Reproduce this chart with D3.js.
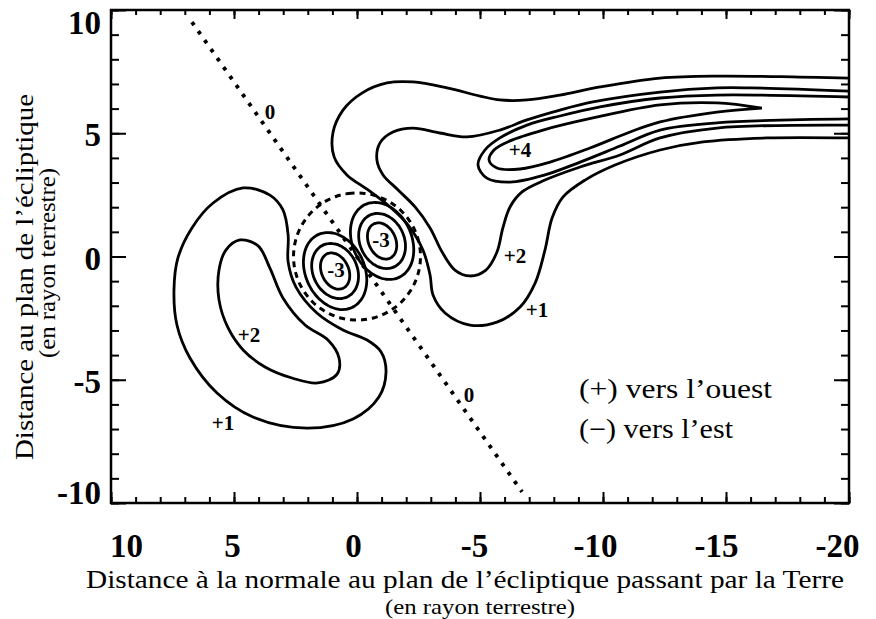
<!DOCTYPE html>
<html><head><meta charset="utf-8">
<script src="https://cdn.jsdelivr.net/npm/d3@7"></script>
<style>body{margin:0;background:#fff}svg{display:block}</style>
</head><body>
<svg id="chart" width="876" height="619"></svg>
<script>
// ---------- axes ----------
const xDomain = [10, -20];
const yDomain = [-10, 10];
const xMajorTicks = [10, 5, 0, -5, -10, -15, -20];
const yMajorTicks = [10, 5, 0, -5, -10];
const xMinorTicks = d3.range(10, -21, -1);
const yMinorTicks = d3.range(-10, 11, 1);

// ---------- contours (data units: Earth radii) ----------
const plus1Left = [[4.63,2.78],[3.54,2.49],[3.01,1.89],[2.80,0.87],[2.80,-0.22],[2.48,-1.24],[1.63,-2.29],[0.57,-2.98],[-0.41,-3.39],[-0.98,-3.87],[-1.18,-4.69],[-0.89,-5.70],[0.16,-6.59],[2.03,-6.96],[4.23,-6.51],[5.69,-5.54],[6.79,-4.12],[7.32,-2.78],[7.44,-1.36],[7.28,-0.06],[6.71,1.16],[5.85,2.17]];
const plus2Left = [[4.76,0.67],[4.02,0.43],[3.54,-0.47],[3.01,-1.68],[2.11,-2.78],[1.18,-3.39],[0.73,-4.12],[0.81,-4.77],[1.59,-5.13],[2.64,-4.93],[3.74,-4.48],[4.63,-3.79],[5.24,-2.90],[5.61,-1.76],[5.61,-0.55],[5.33,0.26]];
const plus1Right = [[-20.0,7.24],[-18.0,7.28],[-14.76,7.32],[-12.32,7.24],[-9.88,6.88],[-8.25,6.55],[-6.91,6.35],[-5.81,6.35],[-5.0,6.51],[-3.66,6.84],[-2.28,7.08],[-1.22,7.04],[-0.20,6.63],[0.57,5.94],[0.98,5.01],[0.93,4.04],[0.41,3.31],[-0.45,2.70],[-1.34,2.01],[-2.07,1.28],[-2.68,0.26],[-2.97,-0.75],[-3.09,-1.56],[-3.58,-2.29],[-4.59,-2.78],[-5.69,-2.66],[-6.63,-2.05],[-7.24,-1.08],[-7.64,0.26],[-7.93,1.56],[-8.37,2.41],[-9.27,3.10],[-10.49,3.71],[-12.32,4.32],[-14.07,4.65],[-16.67,4.81],[-20.0,4.81]];
const plus2Right = [[-20.0,6.71],[-15.98,6.84],[-14.63,6.84],[-12.32,6.67],[-9.59,6.27],[-8.25,5.94],[-6.91,5.54],[-5.81,5.13],[-4.47,4.85],[-3.37,5.01],[-2.28,5.21],[-1.46,5.05],[-0.93,4.60],[-0.81,3.91],[-1.06,3.31],[-1.67,2.70],[-2.36,2.01],[-2.97,1.16],[-3.46,0.18],[-3.98,-0.55],[-4.59,-0.79],[-5.24,-0.55],[-5.69,0.18],[-5.93,1.16],[-6.22,2.01],[-6.71,2.62],[-7.64,3.10],[-9.07,3.63],[-10.69,4.12],[-12.32,4.81],[-14.63,5.21],[-20.0,5.33]];
const plus3Tongue = [[-20.0,6.47],[-14.63,6.55],[-12.32,6.43],[-9.88,6.07],[-8.25,5.70],[-6.91,5.33],[-5.81,4.81],[-5.20,4.32],[-4.92,3.71],[-5.28,3.18],[-6.22,3.02],[-7.64,3.31],[-9.07,3.83],[-10.69,4.48],[-12.32,5.13],[-14.63,5.42],[-20.0,5.58]];
const plus4Loop = [[-16.46,6.02],[-14.63,6.23],[-12.32,6.15],[-9.59,5.62],[-7.56,5.13],[-6.22,4.69],[-5.57,4.32],[-5.37,3.91],[-5.69,3.59],[-6.63,3.55],[-7.85,3.83],[-9.47,4.40],[-11.10,5.05],[-12.32,5.46],[-14.63,5.86],[-16.46,6.02]];

// vortex cores (-1, -2, -3): centres and ellipse semi-axes [major, minor]
const vortexCentres = [[0.89,-0.59],[-1.02,0.63]];
const vortexAxes = [[1.63,1.2],[1.16,0.9],[0.77,0.55]];
const vortexTiltDeg = 25;
// zero contours
const zeroCircleCentre = [0, 0];
const zeroCircleRadius = 2.58;
const zeroLine = [[6.71,9.51],[-6.71,-9.55]];

// contour value labels
const labelTexts = ["0","+4","-3","-3","+2","+1","+2","+1","0"];
const labelX = [3.54,-6.63,-0.98,0.85,-6.42,-7.32,4.39,5.45,-4.55];
const labelY = [5.86,4.32,0.67,-0.55,0.02,-2.17,-3.18,-6.75,-5.62];

const legendLines = ["(+) vers l\u2019ouest","(\u2212) vers l\u2019est"];
const xTitle = ["Distance \u00e0 la normale au plan de l\u2019\u00e9cliptique passant par la Terre","(en rayon terrestre)"];
const yTitle = ["Distance au plan de l\u2019\u00e9cliptique","(en rayon terrestre)"];

// ---------- drawing ----------
const svg = d3.select("#chart");
const L = 111, R = 849, T = 10, B = 503;
const x = d3.scaleLinear().domain(xDomain).range([L, R]);
const y = d3.scaleLinear().domain(yDomain).range([B, T]);

svg.append("rect").attr("width",876).attr("height",619).attr("fill","#fff");
svg.append("defs").append("clipPath").attr("id","clip")
  .append("rect").attr("x",L).attr("y",T).attr("width",R-L).attr("height",B-T);
const g = svg.append("g").attr("clip-path","url(#clip)");

const lineOpen = d3.line().x(d=>x(d[0])).y(d=>y(d[1])).curve(d3.curveCatmullRom.alpha(0.5));
const lineClosed = d3.line().x(d=>x(d[0])).y(d=>y(d[1])).curve(d3.curveCatmullRomClosed.alpha(0.5));

function solid(sel){ return sel.attr("fill","none").attr("stroke","#000").attr("stroke-width",2.8).attr("stroke-linejoin","round"); }

[plus1Left, plus2Left].forEach(c => solid(g.append("path").attr("d", lineClosed(c))));
[plus1Right, plus2Right, plus3Tongue, plus4Loop].forEach(c => solid(g.append("path").attr("d", lineOpen(c))));

function ellipsePts(c, a, b, tiltDeg){
  const t = tiltDeg*Math.PI/180;
  const d1 = [Math.sin(t), Math.cos(t)], d2 = [Math.cos(t), -Math.sin(t)];
  return d3.range(0, 72).map(i => {
    const th = i/72*2*Math.PI, ca = a*Math.cos(th), sb = b*Math.sin(th);
    return [c[0] + ca*d1[0] + sb*d2[0], c[1] + ca*d1[1] + sb*d2[1]];
  });
}
vortexCentres.forEach(c => vortexAxes.forEach(ax =>
  solid(g.append("path").attr("d", lineClosed(ellipsePts(c, ax[0], ax[1], vortexTiltDeg))))));

// zero contours
g.append("path").attr("d", lineClosed(ellipsePts(zeroCircleCentre, zeroCircleRadius, zeroCircleRadius, 0)))
  .attr("fill","none").attr("stroke","#000").attr("stroke-width",3).attr("stroke-dasharray","6,5");
g.append("path").attr("d", d3.line().x(d=>x(d[0])).y(d=>y(d[1]))(zeroLine))
  .attr("fill","none").attr("stroke","#000").attr("stroke-width",3.8).attr("stroke-dasharray","3.8,7.2");

// labels
const serif = "'Liberation Serif','Times New Roman',serif";
g.selectAll("text.cl").data(labelTexts).join("text").attr("class","cl")
  .attr("x",(d,i)=>x(labelX[i])).attr("y",(d,i)=>y(labelY[i])).attr("dy","0.35em")
  .attr("text-anchor","middle").attr("font-family",serif)
  .attr("font-weight","bold").attr("font-size",21).attr("fill","#000").text(d=>d);

// ---------- axes ----------
function styleAxis(sel){ sel.select(".domain").remove(); sel.selectAll("line").attr("stroke","#000").attr("stroke-width",2); }
const tickFont = s => s.selectAll("text").attr("font-family",serif)
  .attr("font-weight","bold").attr("font-size",33).attr("fill","#000");

svg.append("g").attr("transform",`translate(${L},0)`).call(d3.axisLeft(y).tickValues(yMinorTicks).tickSize(-8).tickFormat("")).call(styleAxis);
const yAx = svg.append("g").attr("transform",`translate(${L},0)`)
  .call(d3.axisLeft(y).tickValues(yMajorTicks).tickSize(-15).tickPadding(10).tickFormat(d=>String(d)))
  .call(styleAxis).call(tickFont);
yAx.selectAll("text").attr("dy", d => d===10 ? "0.7em" : d===-10 ? "0.0em" : "0.38em");

svg.append("g").attr("transform",`translate(${R},0)`).call(d3.axisRight(y).tickValues(yMinorTicks).tickSize(-8).tickFormat("")).call(styleAxis);
svg.append("g").attr("transform",`translate(${R},0)`).call(d3.axisRight(y).tickValues(yMajorTicks).tickSize(-15).tickFormat("")).call(styleAxis);

svg.append("g").attr("transform",`translate(0,${T})`).call(d3.axisTop(x).tickValues(xMinorTicks).tickSize(-5).tickFormat("")).call(styleAxis);
svg.append("g").attr("transform",`translate(0,${T})`).call(d3.axisTop(x).tickValues(xMajorTicks).tickSize(-9).tickFormat("")).call(styleAxis);

svg.append("g").attr("transform",`translate(0,${B})`).call(d3.axisBottom(x).tickValues(xMinorTicks).tickSize(-6).tickFormat("")).call(styleAxis);
const xAx = svg.append("g").attr("transform",`translate(0,${B})`)
  .call(d3.axisBottom(x).tickValues(xMajorTicks).tickSize(-11).tickPadding(54).tickFormat(d=>String(d)))
  .call(styleAxis).call(tickFont);
xAx.selectAll("text").attr("dy","0").attr("dx",(d,i)=> i===0 ? 15 : -2*i);

svg.append("rect").attr("x",L).attr("y",T).attr("width",R-L).attr("height",B-T)
  .attr("fill","none").attr("stroke","#000").attr("stroke-width",2.5);

// ---------- titles & legend ----------
svg.append("text").attr("x",465).attr("y",588).attr("text-anchor","middle").attr("font-family",serif)
  .attr("font-size",25).attr("textLength",758).attr("lengthAdjust","spacingAndGlyphs").text(xTitle[0]);
svg.append("text").attr("x",480).attr("y",614).attr("text-anchor","middle").attr("font-family",serif)
  .attr("font-size",22).attr("textLength",190).attr("lengthAdjust","spacingAndGlyphs").text(xTitle[1]);

svg.append("text").attr("transform","translate(33,277) rotate(-90)").attr("text-anchor","middle").attr("font-family",serif)
  .attr("font-size",25).attr("textLength",366).attr("lengthAdjust","spacingAndGlyphs").text(yTitle[0]);
svg.append("text").attr("transform","translate(55,263) rotate(-90)").attr("text-anchor","middle").attr("font-family",serif)
  .attr("font-size",23).attr("textLength",190).attr("lengthAdjust","spacingAndGlyphs").text(yTitle[1]);

svg.append("text").attr("x",579).attr("y",398).attr("font-family",serif).attr("font-size",27)
  .attr("textLength",193).attr("lengthAdjust","spacingAndGlyphs").text(legendLines[0]);
svg.append("text").attr("x",579).attr("y",438).attr("font-family",serif).attr("font-size",27)
  .attr("textLength",154).attr("lengthAdjust","spacingAndGlyphs").text(legendLines[1]);
</script>
</body></html>
